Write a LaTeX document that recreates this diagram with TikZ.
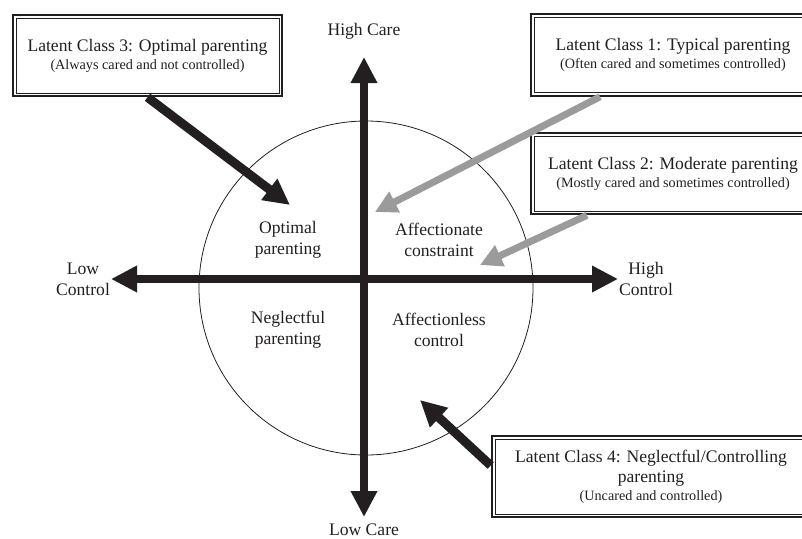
\documentclass[tikz,border=0pt]{standalone}
\usepackage{fontspec}
\setmainfont{Liberation Serif}
\usetikzlibrary{arrows.meta}
\definecolor{ink}{HTML}{231F20}
\definecolor{lightink}{HTML}{9B9B9B}
\newcommand\bigtxt{\fontsize{17.6}{21}\selectfont}
\newcommand\smalltxt{\fontsize{14.2}{17}\selectfont}

\begin{document}
\begin{tikzpicture}[x=1pt, y=-1pt, >={Triangle[length=26pt,width=25pt]},
    every node/.style={font=\bigtxt, text=ink, align=center, inner sep=0pt},
    classbox/.style={draw=ink, line width=0.6pt, fill=white, minimum height=75pt},
    frame/.style={draw=ink, line width=2pt},
    axis/.style={<->, draw=ink, line width=8pt},
    pointer/.style={->, draw=ink, line width=9pt},
    softpointer/.style={-{Triangle[length=22pt,width=22pt]}, draw=lightink, line width=7pt}]
    \useasboundingbox (0,0) rectangle (802,538);
    \clip (0,0) rectangle (802,538);

    % the circle and the two axes
    \draw[ink, line width=0.8pt] (366,288) circle (167pt);

    \coordinate (caretop) at (364,57);
    \coordinate (carebot) at (364,517);
    \coordinate (ctrlleft) at (111,279);
    \coordinate (ctrlright) at (618,279);
    \draw[axis] (caretop) -- (carebot);
    \draw[axis] (ctrlleft) -- (ctrlright);

    \node (highcare) at (364,31) {High Care};
    \node (lowcare) at (364,530) {Low Care};
    \node (lowctrl) at (83,279) {Low\\Control};
    \node (highctrl) at (646,279) {High\\Control};

    % quadrants
    \node (optimal) at (288,240) {Optimal\\parenting};
    \node (affcons) at (439,240) {Affectionate\\constraint};
    \node (neglect) at (288,330) {Neglectful\\parenting};
    \node (affless) at (439,330) {Affectionless\\control};

    % latent classes
    \node[classbox, minimum width=263pt] (c3) at (147.5,55.5)
        {Latent Class 3: Optimal parenting\\[-3pt]{\smalltxt (Always cared and not controlled)}};
    \node[classbox, minimum width=278pt] (c1) at (673,55)
        {Latent Class 1: Typical parenting\\[-3pt]{\smalltxt (Often cared and sometimes controlled)}};
    \node[classbox, minimum width=278pt] (c2) at (673,173.5)
        {Latent Class 2: Moderate parenting\\[-3pt]{\smalltxt (Mostly cared and sometimes controlled)}};
    \node[classbox, minimum width=312pt] (c4) at (651,476.5)
        {Latent Class 4: Neglectful/Controlling\\[-1pt]parenting\\[-3pt]{\smalltxt (Uncared and controlled)}};
    \foreach \b in {c1,c2,c3,c4}
        \draw[frame] ([shift={(-3pt,-3pt)}]\b.south west) rectangle ([shift={(3pt,3pt)}]\b.north east);

    \coordinate (tip3) at (290,205);
    \coordinate (tip1) at (375,212);
    \coordinate (tip2) at (480,265);
    \coordinate (tip4) at (420,400);
    \draw[pointer] ([yshift=-4pt]c3.south) -- (tip3);
    \draw[softpointer] ([shift={(-73pt,-4pt)}]c1.south) -- (tip1);
    \draw[softpointer] ([shift={(-86pt,-4pt)}]c2.south) -- (tip2);
    \draw[pointer] ([shift={(-4pt,11pt)}]c4.west) -- (tip4);
\end{tikzpicture}
\end{document}
